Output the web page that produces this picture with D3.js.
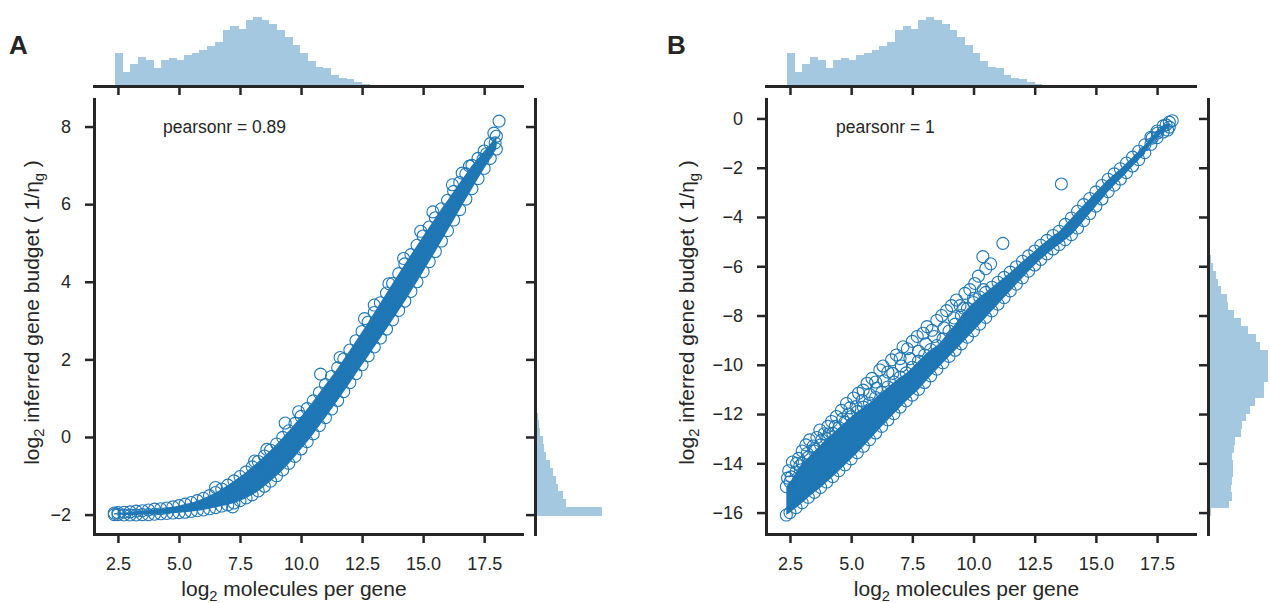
<!DOCTYPE html>
<html><head><meta charset="utf-8">
<script src="https://cdn.jsdelivr.net/npm/d3@7"></script>
<style>
body{margin:0;background:#fff}
svg{display:block}
text{font-family:"Liberation Sans",Arial,Helvetica,sans-serif;fill:#262626}
</style>
</head><body><svg id="c" width="1270" height="603"></svg>
<script>
// ---------- data ----------
const xTicks=[2.5,5,7.5,10,12.5,15,17.5];
const xTickLabels=["2.5","5.0","7.5","10.0","12.5","15.0","17.5"];
const yTicksA=[-2,0,2,4,6,8];
const yTickLabelsA=["\u22122","0","2","4","6","8"];
const yTicksB=[-16,-14,-12,-10,-8,-6,-4,-2,0];
const yTickLabelsB=["\u221216","\u221214","\u221212","\u221210","\u22128","\u22126","\u22124","\u22122","0"];
const panelLetters=["A","B"];
const pearsonTexts=["pearsonr = 0.89","pearsonr = 1"];
const xDomain=[1.52,19.05];
const yDomainA=[-2.5,8.71];
const yDomainB=[-16.87,0.79];

// x positions at which the edges of the dense point cloud were read
const bandX=[2.35,2.5,2.75,3,3.25,3.5,3.75,4,4.25,4.5,4.75,5,5.25,5.5,5.75,6,6.25,6.5,6.75,7,7.25,7.5,7.75,8,8.25,8.5,8.75,9,9.25,9.5,9.75,10,10.25,10.5,10.75,11,11.25,11.5,11.75,12,12.25,12.5,12.75,13,13.25,13.5,13.75,14,14.25,14.5,14.75,15,15.25,15.5,15.75,16,16.25,16.5,16.75,17,17.25,17.5,17.75,18];
// panel A: lower / upper edge of the point cloud (point centres)
const bandLoA=[-2.0,-2.0,-2.01,-2.01,-2.01,-2.0,-2.0,-1.99,-1.98,-1.97,-1.96,-1.95,-1.94,-1.92,-1.9,-1.88,-1.85,-1.82,-1.78,-1.75,-1.7,-1.64,-1.57,-1.49,-1.39,-1.27,-1.14,-1.0,-0.85,-0.68,-0.5,-0.31,-0.12,0.08,0.29,0.5,0.72,0.94,1.17,1.4,1.63,1.86,2.09,2.32,2.55,2.78,3.02,3.26,3.5,3.75,4.0,4.26,4.52,4.78,5.05,5.32,5.59,5.86,6.13,6.4,6.66,6.92,7.18,7.42];
const bandHiA=[-1.96,-1.95,-1.94,-1.93,-1.91,-1.9,-1.88,-1.86,-1.85,-1.83,-1.8,-1.77,-1.73,-1.69,-1.64,-1.58,-1.51,-1.43,-1.34,-1.24,-1.13,-1.02,-0.9,-0.77,-0.63,-0.49,-0.34,-0.18,-0.01,0.16,0.35,0.53,0.73,0.93,1.14,1.35,1.56,1.78,2.01,2.24,2.48,2.72,2.96,3.21,3.46,3.71,3.96,4.21,4.46,4.7,4.94,5.18,5.41,5.65,5.88,6.1,6.33,6.56,6.78,7.0,7.18,7.37,7.56,7.75];
const extraA=[[6.5,-1.3],[7.2,-1.8],[8.1,-0.62],[8.6,-0.32],[9.35,0.36],[9.9,0.65],[10.8,1.62],[11.6,2.05],[12.6,3.05],[13.0,3.4],[13.6,3.95],[14.2,4.6],[14.9,5.3],[15.4,5.8],[16.2,6.5],[16.6,6.8],[16.9,6.98],[17.45,7.15],[17.6,7.3],[17.9,7.83],[17.95,7.58],[18.11,8.14]];
// panel B: lower / upper edge of the dense core
const bandLoB=[-16.1,-16.0,-15.8,-15.6,-15.38,-15.18,-14.98,-14.76,-14.54,-14.3,-14.06,-13.82,-13.57,-13.31,-13.04,-12.77,-12.5,-12.24,-11.98,-11.72,-11.47,-11.23,-11.0,-10.72,-10.45,-10.18,-9.92,-9.66,-9.41,-9.15,-8.88,-8.62,-8.35,-8.08,-7.81,-7.54,-7.27,-7.0,-6.73,-6.47,-6.2,-5.95,-5.72,-5.5,-5.3,-5.12,-4.92,-4.72,-4.45,-4.15,-3.86,-3.56,-3.27,-2.97,-2.71,-2.46,-2.2,-1.93,-1.67,-1.39,-1.05,-0.78,-0.55,-0.35];
const bandHiB=[-14.95,-14.75,-14.35,-14.0,-13.75,-13.5,-13.25,-13.0,-12.78,-12.55,-12.33,-12.1,-11.9,-11.72,-11.55,-11.33,-11.12,-10.9,-10.7,-10.5,-10.33,-10.1,-9.85,-9.6,-9.38,-9.22,-8.95,-8.63,-8.35,-8.0,-7.72,-7.47,-7.25,-7.06,-6.85,-6.65,-6.45,-6.24,-6.02,-5.8,-5.58,-5.38,-5.15,-4.95,-4.75,-4.58,-4.3,-4.04,-3.77,-3.5,-3.25,-2.98,-2.72,-2.47,-2.25,-2.04,-1.81,-1.57,-1.33,-1.07,-0.76,-0.51,-0.3,-0.15];
const extraB=[[2.4,-14.6],[2.45,-14.3],[2.6,-13.95],[2.77,-14.0],[2.85,-13.8],[3.0,-13.5],[3.15,-13.25],[3.3,-13.05],[3.45,-13.3],[3.6,-12.95],[3.72,-12.65],[3.9,-12.8],[4.05,-12.5],[4.2,-12.3],[4.4,-12.1],[4.6,-11.85],[4.81,-11.57],[4.95,-11.75],[5.1,-11.35],[5.3,-11.15],[5.49,-11.03],[5.65,-10.75],[5.85,-10.55],[6.0,-10.7],[6.17,-10.21],[6.3,-10.05],[6.5,-10.3],[6.65,-9.8],[6.85,-9.6],[7.0,-9.75],[7.12,-9.27],[7.3,-9.35],[7.5,-9.05],[7.7,-8.85],[7.94,-8.72],[8.1,-8.45],[8.3,-8.6],[8.5,-8.2],[8.7,-8.0],[8.9,-7.8],[9.1,-7.6],[9.3,-7.37],[9.45,-7.6],[9.65,-7.1],[9.85,-6.95],[10.05,-6.7],[10.2,-6.4],[10.38,-5.61],[10.5,-6.1],[10.7,-5.9],[11.2,-5.07],[13.59,-2.66],[17.3,-0.8],[17.52,-0.59],[17.87,-0.26],[17.93,-0.47],[18.12,-0.09],
  [2.55,-14.55],[2.9,-14.1],[3.2,-13.6],[3.5,-13.4],[3.8,-13.05],[4.1,-12.8],[4.35,-12.5],[4.65,-12.2],[4.9,-12.0],[5.2,-11.7],[5.45,-11.45],[5.75,-11.2],[6.05,-10.95],[6.35,-10.65],[6.7,-10.35],[7.05,-10.05],[7.4,-9.75],[7.75,-9.45],[8.05,-9.15],[8.4,-8.85],[8.8,-8.5],[9.2,-8.1],[9.6,-7.7],[10.0,-7.3],[10.4,-6.95]];

// marginal histograms (50 bins each)
const xHistRange=[2.36,18.16];
const xHistCounts=[33,14,22,29,26,18,26,28,26,31,33,36,40,44,56,60,57,66,69,66,62,56,49,41,33,25,19,18,11,8,7,4,2,1,1,0.6,0.5,0.4,0.3,0.3,0.2,0.2,0.2,0.1,0.1,0.1,0.1,0.1,0.1,0.1];
const yHistRangeA=[-2.02,8.14];
const yHistCountsA=[67,31,28,23,21,18,15,11,9,8,5,4,3,2,1,1,0.5,0.4,0.3,0.3,0.3,0.2,0.2,0.2,0.2,0.2,0.2,0.2,0.1,0.1,0.1,0.1,0.1,0.1,0.1,0.1,0.1,0.1,0.1,0.1,0.1,0.1,0.1,0.1,0.1,0.1,0.1,0.1,0.1,0.1];
const yHistRangeB=[-16.14,-0.09];
const yHistCountsB=[3,22,25,24,25,26,26,25,27,28,34,35,39,43,49,58,58,62,62,62,62,54,50,41,34,27,21,20,13,10,8,5,3,2,1,1,0.5,0.4,0.3,0.3,0.2,0.2,0.2,0.1,0.1,0.1,0.1,0.1,0.1,0.1];

// ---------- drawing ----------
const svg=d3.select("#c");
const BLUE="#1f77b4", INK="#262626", HIST="#a5c8e1";
const FS_TICK=18, FS_TITLE=21;

function axisStyle(sel){
  sel.select(".domain").attr("stroke",INK).attr("stroke-width",3).attr("stroke-linecap","square");
  sel.selectAll(".tick line").attr("stroke",INK).attr("stroke-width",2.5);
  sel.selectAll(".tick text").attr("fill",INK).attr("font-size",FS_TICK)
     .attr("font-family","'Liberation Sans',Arial,sans-serif");
}

function drawPanel(p){
  const x=d3.scaleLinear().domain(xDomain).range([p.left,p.right]);
  const y=d3.scaleLinear().domain(p.yDomain).range([p.bottom,p.top]);
  const g=svg.append("g");

  // top marginal histogram
  const hx=d3.scaleLinear().domain([0,d3.max(xHistCounts)*1.05]).range([p.histBase,p.histBase-72]);
  const xw=(xHistRange[1]-xHistRange[0])/xHistCounts.length;
  g.append("g").attr("shape-rendering","crispEdges").selectAll("rect").data(xHistCounts).join("rect")
    .attr("x",(d,i)=>x(xHistRange[0]+i*xw))
    .attr("width",(d,i)=>x(xHistRange[0]+(i+1)*xw)-x(xHistRange[0]+i*xw)+0.6)
    .attr("y",d=>hx(d)).attr("height",d=>p.histBase-hx(d))
    .attr("fill",HIST);
  const topAx=g.append("g").attr("transform",`translate(0,${p.histBase})`)
    .call(d3.axisBottom(x).tickValues(xTicks).tickFormat("").tickSize(9).tickSizeOuter(0));
  axisStyle(topAx);

  // right marginal histogram
  const hy=d3.scaleLinear().domain([0,d3.max(p.yCounts)*1.05]).range([p.rightSpine,p.rightSpine+p.rightLen]);
  const yw=(p.yRange[1]-p.yRange[0])/p.yCounts.length;
  g.append("g").attr("shape-rendering","crispEdges").selectAll("rect").data(p.yCounts).join("rect")
    .attr("x",p.rightSpine)
    .attr("y",(d,i)=>y(p.yRange[0]+(i+1)*yw)-0.3)
    .attr("height",(d,i)=>y(p.yRange[0]+i*yw)-y(p.yRange[0]+(i+1)*yw)+0.6)
    .attr("width",d=>hy(d)-p.rightSpine)
    .attr("fill",HIST);
  const rAx=g.append("g").attr("transform",`translate(${p.rightSpine},0)`)
    .call(d3.axisLeft(y).tickValues(p.yTicks).tickFormat("").tickSize(9).tickSizeOuter(0));
  axisStyle(rAx);

  // scatter: dense core + edge points
  const pts=bandX.map((v,i)=>({x:v,lo:p.lo[i],hi:p.hi[i]}));
  g.append("path").datum(pts)
    .attr("d",d3.area().x(d=>x(d.x)).y0(d=>y(d.lo)).y1(d=>y(d.hi)).curve(d3.curveMonotoneX))
    .attr("fill",BLUE);
  const circ=[...pts.map(d=>[d.x,d.lo]),...pts.map(d=>[d.x,d.hi]),...p.extra];
  g.append("g").selectAll("circle").data(circ).join("circle")
    .attr("cx",d=>x(d[0])).attr("cy",d=>y(d[1])).attr("r",6)
    .attr("fill","none").attr("stroke",BLUE).attr("stroke-width",1.1);

  // main axes
  const bx=g.append("g").attr("transform",`translate(0,${p.bottom})`)
    .call(d3.axisBottom(x).tickValues(xTicks).tickFormat((d,i)=>xTickLabels[i]).tickSize(9).tickPadding(14).tickSizeOuter(0));
  axisStyle(bx);
  const ly=g.append("g").attr("transform",`translate(${p.left},0)`)
    .call(d3.axisLeft(y).tickValues(p.yTicks).tickFormat((d,i)=>p.yTickLabels[i]).tickSize(9).tickPadding(14).tickSizeOuter(0));
  axisStyle(ly);

  // x title
  const xt=g.append("text").attr("x",(p.left+p.right)/2-14).attr("y",596)
    .attr("text-anchor","middle").attr("font-size",FS_TITLE);
  xt.append("tspan").text("log");
  xt.append("tspan").attr("font-size",FS_TITLE*0.7).attr("dy",5).text("2");
  xt.append("tspan").attr("dy",-5).text(" molecules per gene");

  // y title
  const yt=g.append("text")
    .attr("transform",`translate(${p.yTitleX},${(p.top+p.bottom)/2-4}) rotate(-90)`)
    .attr("text-anchor","middle").attr("font-size",FS_TITLE);
  yt.append("tspan").text("log");
  yt.append("tspan").attr("font-size",FS_TITLE*0.7).attr("dy",5).text("2");
  yt.append("tspan").attr("dy",-5).text(" inferred gene budget ( 1/\u03b7");
  yt.append("tspan").attr("font-size",FS_TITLE*0.7).attr("dy",5).text("g");
  yt.append("tspan").attr("dy",-5).text(" )");

  // annotation and panel letter
  g.append("text").attr("x",p.annX).attr("y",133).attr("font-size",17.5).text(p.ann);
  g.append("text").attr("x",p.letterX).attr("y",54).attr("font-size",26).attr("font-weight","bold")
    .attr("fill","#000").text(p.letter);
}

drawPanel({left:94,right:522,top:99,bottom:534,yDomain:yDomainA,yTicks:yTicksA,yTickLabels:yTickLabelsA,
  lo:bandLoA,hi:bandHiA,extra:extraA,histBase:86,rightSpine:535,rightLen:70,yCounts:yHistCountsA,yRange:yHistRangeA,
  yTitleX:39,annX:163,ann:pearsonTexts[0],letterX:9,letter:panelLetters[0]});
drawPanel({left:766,right:1195,top:99,bottom:534,yDomain:yDomainB,yTicks:yTicksB,yTickLabels:yTickLabelsB,
  lo:bandLoB,hi:bandHiB,extra:extraB,histBase:86,rightSpine:1208,rightLen:63,yCounts:yHistCountsB,yRange:yHistRangeB,
  yTitleX:694,annX:836,ann:pearsonTexts[1],letterX:667,letter:panelLetters[1]});
</script>
</body></html>
